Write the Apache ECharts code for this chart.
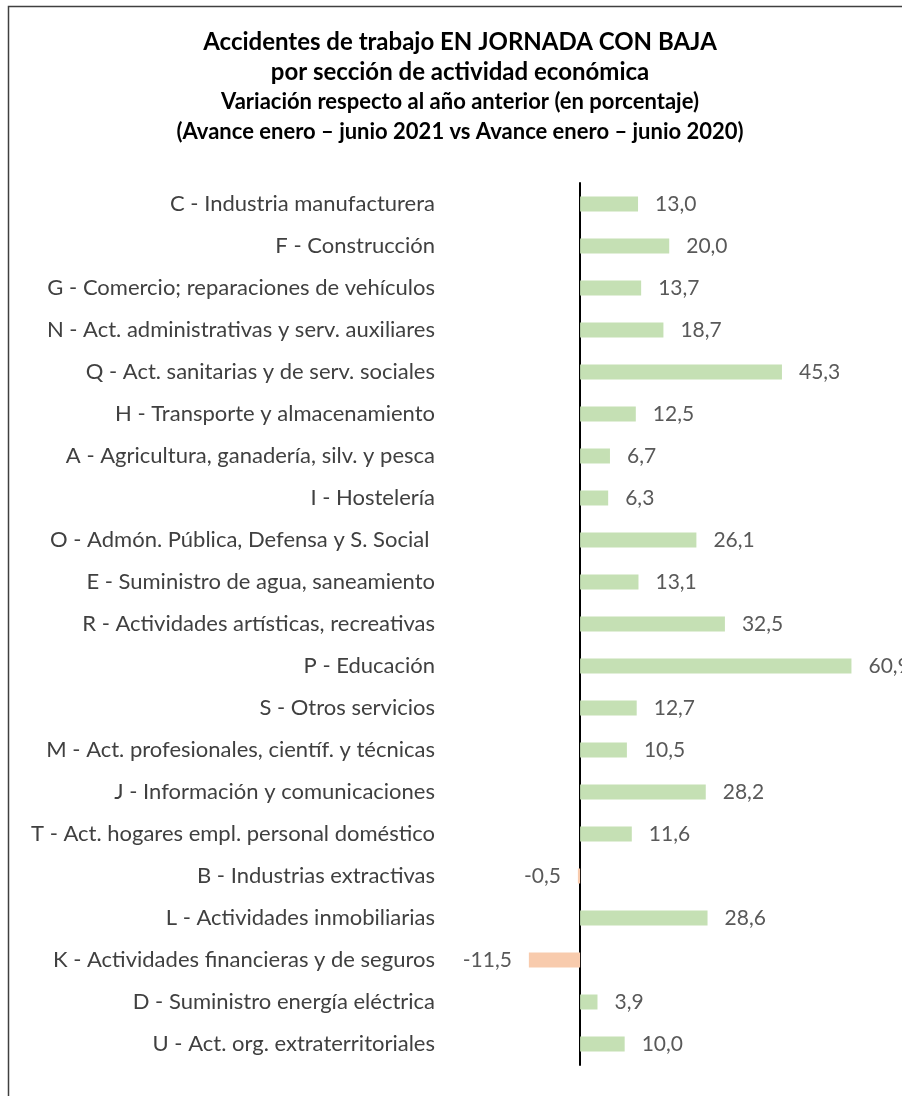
<!DOCTYPE html>
<html>
<head>
<meta charset="utf-8">
<script src="https://cdn.jsdelivr.net/npm/echarts@6/dist/echarts.min.js"></script>
<style>
  html, body { margin: 0; padding: 0; background: #fff; }
  #chart { width: 902px; height: 1096px; }
</style>
</head>
<body>
<div id="chart"></div>
<script>
// secciones de actividad (de arriba a abajo)
var categories = [
  'C - Industria manufacturera',
  'F - Construcción',
  'G - Comercio; reparaciones de vehículos',
  'N - Act. administrativas y serv. auxiliares',
  'Q - Act. sanitarias y de serv. sociales',
  'H - Transporte y almacenamiento',
  'A - Agricultura, ganadería, silv. y pesca',
  'I - Hostelería',
  'O - Admón. Pública, Defensa y S. Social ',
  'E - Suministro de agua, saneamiento',
  'R - Actividades artísticas, recreativas',
  'P - Educación',
  'S - Otros servicios',
  'M - Act. profesionales, científ. y técnicas',
  'J - Información y comunicaciones',
  'T - Act. hogares empl. personal doméstico',
  'B - Industrias extractivas',
  'L - Actividades inmobiliarias',
  'K - Actividades financieras y de seguros',
  'D - Suministro energía eléctrica',
  'U - Act. org. extraterritoriales'
];

// variación en porcentaje
var variacion = [13.0, 20.0, 13.7, 18.7, 45.3, 12.5, 6.7, 6.3, 26.1, 13.1, 32.5, 60.9, 12.7, 10.5, 28.2, 11.6, -0.5, 28.6, -11.5, 3.9, 10.0];

var titulo = ['Accidentes de trabajo EN JORNADA CON BAJA', 'por sección de actividad económica'];
var subtitulo = ['Variación respecto al año anterior (en porcentaje)', '(Avance enero – junio 2021 vs Avance enero – junio 2020)'];

var fuente = 'Lato, "Open Sans", sans-serif';

// lineas del titulo como texto grafico (centrado en x=460)
var lineasTitulo = [];
titulo.forEach(function (t, i) {
  lineasTitulo.push({
    type: 'text', x: 460, y: 42 + i * 30, silent: true,
    style: { text: t, align: 'center', verticalAlign: 'middle', font: 'bold 24px ' + fuente, fill: '#000' }
  });
});
subtitulo.forEach(function (t, i) {
  lineasTitulo.push({
    type: 'text', x: 460, y: 102 + i * 30, silent: true,
    style: { text: t, align: 'center', verticalAlign: 'middle', font: 'bold 22px ' + fuente, fill: '#000' }
  });
});

var chart = echarts.init(document.getElementById('chart'));

chart.setOption({
  animation: false,
  textStyle: { fontFamily: fuente },
  graphic: [{
    type: 'rect',
    shape: { x: 8.5, y: 6.5, width: 1000, height: 1200 },
    style: { fill: 'none', stroke: '#404040', lineWidth: 1.5 },
    silent: true
  }].concat(lineasTitulo),
  grid: { left: 491, right: 10, top: 183, height: 882, containLabel: false, outerBoundsMode: 'none' },
  xAxis: {
    type: 'value',
    min: -20,
    max: 70,
    show: false
  },
  yAxis: {
    type: 'category',
    inverse: true,
    data: categories,
    axisLine: { onZero: true, lineStyle: { color: '#000', width: 2 } },
    axisTick: { show: false },
    axisLabel: { margin: 56, fontSize: 22, color: '#404040', fontFamily: fuente }
  },
  series: [{
    type: 'bar',
    barWidth: 15,
    data: variacion.map(function (v) {
      return {
        value: v,
        itemStyle: { color: v < 0 ? '#f8cbad' : '#c5e0b4' },
        label: { position: v < 0 ? 'left' : 'right' }
      };
    }),
    label: {
      show: true,
      distance: 17,
      fontSize: 21,
      color: '#595959',
      fontFamily: fuente,
      formatter: function (p) { return p.value.toFixed(1).replace('.', ','); }
    }
  }]
});
</script>
</body>
</html>
